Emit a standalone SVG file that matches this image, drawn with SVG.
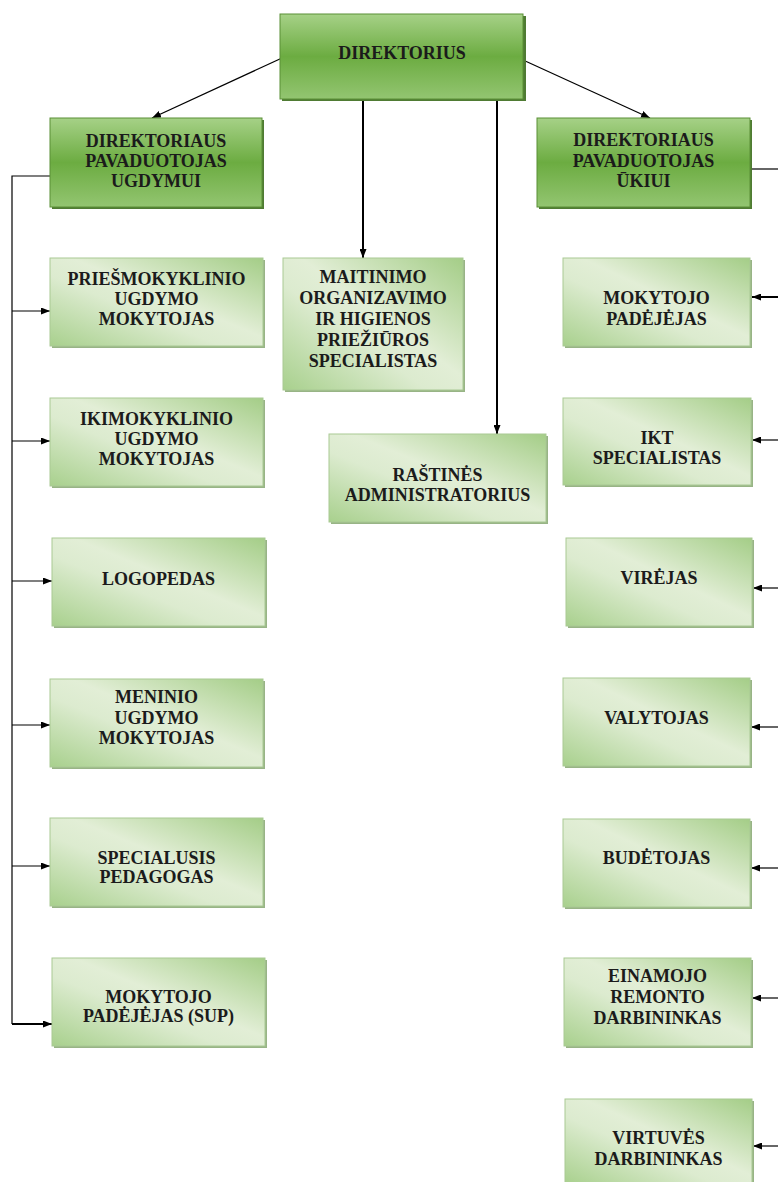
<svg xmlns="http://www.w3.org/2000/svg" width="778" height="1182" viewBox="0 0 778 1182">
<defs>
<linearGradient id="gTop" x1="0" y1="0" x2="0" y2="1">
<stop offset="0" stop-color="#a6d187"/>
<stop offset="0.5" stop-color="#6cac41"/>
<stop offset="1" stop-color="#93c571"/>
</linearGradient>
<linearGradient id="gLow" x1="1" y1="0" x2="0" y2="1">
<stop offset="0" stop-color="#a4cd87"/>
<stop offset="0.45" stop-color="#e2eed6"/>
<stop offset="0.6" stop-color="#dcebcf"/>
<stop offset="1" stop-color="#a8d08d"/>
</linearGradient>
<marker id="ah" markerWidth="9" markerHeight="7" refX="9" refY="3.5" orient="auto" markerUnits="userSpaceOnUse">
<path d="M0,0 L9,3.5 L0,7 Z" fill="#000"/>
</marker>
</defs>
<style>
.top{fill:url(#gTop);stroke:#5a8f36;stroke-width:1}
.topsh{fill:#4f7b33}
.low{fill:url(#gLow);stroke:#a9c994;stroke-width:1}
.lowsh{fill:#98b486}
.t{font-family:"Liberation Serif","Times New Roman",serif;font-weight:bold;font-size:18px;fill:#1b1b1b;text-anchor:middle}
.c{fill:none;stroke:#000;stroke-width:1.2}
.c2{fill:none;stroke:#000;stroke-width:2}
</style>
<rect width="778" height="1182" fill="#fff"/>

<g id="connectors">
<line class="c" x1="282" y1="58" x2="152" y2="118" marker-end="url(#ah)"/>
<line class="c" x1="523" y1="60" x2="650" y2="118" marker-end="url(#ah)"/>
<line class="c2" x1="363" y1="100" x2="363" y2="258" marker-end="url(#ah)"/>
<line class="c2" x1="497" y1="100" x2="497" y2="434" marker-end="url(#ah)"/>
<path class="c" d="M50,176 H12 V1024"/>
<line class="c" x1="12" y1="311" x2="50" y2="311" marker-end="url(#ah)"/>
<line class="c" x1="12" y1="441" x2="50" y2="441" marker-end="url(#ah)"/>
<line class="c" x1="12" y1="581" x2="52" y2="581" marker-end="url(#ah)"/>
<line class="c" x1="12" y1="725" x2="50" y2="725" marker-end="url(#ah)"/>
<line class="c" x1="12" y1="866" x2="50" y2="866" marker-end="url(#ah)"/>
<line class="c2" x1="12" y1="1024" x2="52" y2="1024" marker-end="url(#ah)"/>
<line class="c" x1="751" y1="169" x2="778" y2="169"/>
<line class="c2" x1="778" y1="297" x2="752" y2="297" marker-end="url(#ah)"/>
<line class="c" x1="778" y1="440" x2="752" y2="440" marker-end="url(#ah)"/>
<line class="c" x1="778" y1="588" x2="753" y2="588" marker-end="url(#ah)"/>
<line class="c" x1="778" y1="727" x2="751" y2="727" marker-end="url(#ah)"/>
<line class="c" x1="778" y1="868" x2="751" y2="868" marker-end="url(#ah)"/>
<line class="c" x1="778" y1="998" x2="752" y2="998" marker-end="url(#ah)"/>
<line class="c" x1="778" y1="1146" x2="753" y2="1146" marker-end="url(#ah)"/>
</g>

<g id="direktorius">
<rect class="topsh" x="282" y="16" width="244" height="85"/>
<rect class="top" x="280" y="14" width="243" height="85"/>
<text class="t" x="402" y="59">DIREKTORIUS</text>
</g>

<g id="pav-ugdymui">
<rect class="topsh" x="52" y="120" width="212" height="89"/>
<rect class="top" x="50" y="118" width="212" height="89"/>
<text class="t" x="156" y="147">DIREKTORIAUS</text>
<text class="t" x="156" y="167">PAVADUOTOJAS</text>
<text class="t" x="156" y="187">UGDYMUI</text>
</g>

<g id="pav-ukiui">
<rect class="topsh" x="539" y="120" width="213" height="89"/>
<rect class="top" x="537" y="118" width="213" height="89"/>
<text class="t" x="643.5" y="146">DIREKTORIAUS</text>
<text class="t" x="643.5" y="167">PAVADUOTOJAS</text>
<text class="t" x="643.5" y="187">ŪKIUI</text>
</g>

<g id="priesmokyklinio">
<rect class="lowsh" x="52" y="260" width="213" height="88"/>
<rect class="low" x="50" y="258" width="213" height="88"/>
<text class="t" x="156.5" y="285">PRIEŠMOKYKLINIO</text>
<text class="t" x="156.5" y="305">UGDYMO</text>
<text class="t" x="156.5" y="325">MOKYTOJAS</text>
</g>

<g id="ikimokyklinio">
<rect class="lowsh" x="52" y="400" width="213" height="88"/>
<rect class="low" x="50" y="398" width="213" height="88"/>
<text class="t" x="156.5" y="425">IKIMOKYKLINIO</text>
<text class="t" x="156.5" y="445">UGDYMO</text>
<text class="t" x="156.5" y="465">MOKYTOJAS</text>
</g>

<g id="logopedas">
<rect class="lowsh" x="54" y="540" width="213" height="88"/>
<rect class="low" x="52" y="538" width="213" height="88"/>
<text class="t" x="158.5" y="585">LOGOPEDAS</text>
</g>

<g id="meninio">
<rect class="lowsh" x="52" y="681" width="213" height="88"/>
<rect class="low" x="50" y="679" width="213" height="88"/>
<text class="t" x="156.5" y="703">MENINIO</text>
<text class="t" x="156.5" y="723.5">UGDYMO</text>
<text class="t" x="156.5" y="744">MOKYTOJAS</text>
</g>

<g id="specialusis">
<rect class="lowsh" x="52" y="820" width="213" height="88"/>
<rect class="low" x="50" y="818" width="213" height="88"/>
<text class="t" x="156.5" y="864">SPECIALUSIS</text>
<text class="t" x="156.5" y="883">PEDAGOGAS</text>
</g>

<g id="mokytojo-sup">
<rect class="lowsh" x="54" y="960" width="213" height="88"/>
<rect class="low" x="52" y="958" width="213" height="88"/>
<text class="t" x="158.5" y="1003">MOKYTOJO</text>
<text class="t" x="158.5" y="1022">PADĖJĖJAS (SUP)</text>
</g>

<g id="maitinimo">
<rect class="lowsh" x="285" y="260" width="180" height="132"/>
<rect class="low" x="283" y="258" width="180" height="132"/>
<text class="t" x="373" y="283">MAITINIMO</text>
<text class="t" x="373" y="304">ORGANIZAVIMO</text>
<text class="t" x="373" y="325">IR HIGIENOS</text>
<text class="t" x="373" y="346">PRIEŽIŪROS</text>
<text class="t" x="373" y="367">SPECIALISTAS</text>
</g>

<g id="rastines">
<rect class="lowsh" x="331" y="436" width="217" height="88"/>
<rect class="low" x="329" y="434" width="217" height="88"/>
<text class="t" x="437.5" y="481">RAŠTINĖS</text>
<text class="t" x="437.5" y="501">ADMINISTRATORIUS</text>
</g>

<g id="mokytojo-padejejas">
<rect class="lowsh" x="565" y="260" width="187" height="88"/>
<rect class="low" x="563" y="258" width="187" height="88"/>
<text class="t" x="656.5" y="304">MOKYTOJO</text>
<text class="t" x="656.5" y="325">PADĖJĖJAS</text>
</g>

<g id="ikt">
<rect class="lowsh" x="565" y="400" width="188" height="87"/>
<rect class="low" x="563" y="398" width="188" height="87"/>
<text class="t" x="657" y="444">IKT</text>
<text class="t" x="657" y="464">SPECIALISTAS</text>
</g>

<g id="virejas">
<rect class="lowsh" x="568" y="540" width="186" height="88"/>
<rect class="low" x="566" y="538" width="186" height="88"/>
<text class="t" x="659" y="584">VIRĖJAS</text>
</g>

<g id="valytojas">
<rect class="lowsh" x="565" y="680" width="187" height="88"/>
<rect class="low" x="563" y="678" width="187" height="88"/>
<text class="t" x="656.5" y="724">VALYTOJAS</text>
</g>

<g id="budetojas">
<rect class="lowsh" x="565" y="821" width="187" height="88"/>
<rect class="low" x="563" y="819" width="187" height="88"/>
<text class="t" x="656.5" y="864">BUDĖTOJAS</text>
</g>

<g id="einamojo">
<rect class="lowsh" x="566" y="960" width="187" height="88"/>
<rect class="low" x="564" y="958" width="187" height="88"/>
<text class="t" x="657.5" y="982">EINAMOJO</text>
<text class="t" x="657.5" y="1003">REMONTO</text>
<text class="t" x="657.5" y="1024">DARBININKAS</text>
</g>

<g id="virtuves">
<rect class="lowsh" x="567" y="1101" width="187" height="85"/>
<rect class="low" x="565" y="1099" width="187" height="85"/>
<text class="t" x="658.5" y="1144">VIRTUVĖS</text>
<text class="t" x="658.5" y="1165">DARBININKAS</text>
</g>
</svg>
